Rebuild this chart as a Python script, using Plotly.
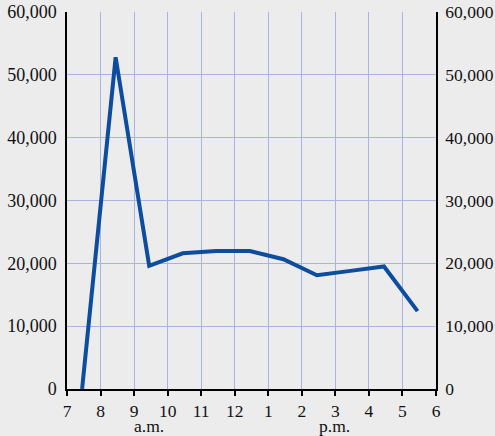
import plotly.graph_objects as go

hours = [7.45, 8.45, 9.45, 10.45, 11.45, 12.45, 13.45, 14.45, 15.45, 16.45, 17.45]
values = [0, 52800, 19600, 21600, 21950, 21950, 20650, 18100, 18800, 19500, 12400]
tick_vals = [7, 8, 9, 10, 11, 12, 13, 14, 15, 16, 17, 18]
tick_text = ["7", "8", "9", "10", "11", "12", "1", "2", "3", "4", "5", "6"]
y_ticks = [0, 10000, 20000, 30000, 40000, 50000, 60000]
y_text = ["0", "10,000", "20,000", "30,000", "40,000", "50,000", "60,000"]

FONT = "Liberation Serif, Times New Roman, serif"
GRID = "#a9b3e2"
BG = "#ececec"

fig = go.Figure()
fig.add_trace(go.Scatter(x=hours, y=values, mode="lines",
                         line=dict(color="#0d4d9e", width=4),
                         showlegend=False, hoverinfo="skip"))
fig.add_trace(go.Scatter(x=hours, y=values, mode="lines", yaxis="y2",
                         line=dict(color="rgba(0,0,0,0)", width=0),
                         showlegend=False, hoverinfo="skip"))

fig.update_layout(
    width=495, height=436,
    margin=dict(l=67, r=59, t=12, b=47, autoexpand=False),
    paper_bgcolor=BG, plot_bgcolor=BG,
    font=dict(family=FONT, color="#111111", size=18),
    xaxis=dict(range=[7, 18], tickvals=tick_vals, ticktext=tick_text,
               showgrid=True, gridcolor=GRID, gridwidth=1, automargin=False,
               zeroline=False, showline=True, linecolor="black", linewidth=1.5,
               ticks="outside", ticklen=5, tickcolor="black", tickwidth=1.5,
               ticklabelstandoff=0, ticklabeloverflow="allow",
               tickfont=dict(size=17.5, family=FONT)),
    yaxis=dict(range=[0, 60000], tickvals=y_ticks, ticktext=y_text,
               showgrid=True, gridcolor=GRID, gridwidth=1, automargin=False,
               zeroline=False, showline=True, linecolor="black", linewidth=1.5,
               ticks="", ticklabelstandoff=5, ticklabeloverflow="allow",
               tickfont=dict(size=18, family=FONT)),
    yaxis2=dict(range=[0, 60000], tickvals=y_ticks, ticktext=y_text,
                overlaying="y", side="right", showgrid=False, automargin=False,
                zeroline=False, showline=True, linecolor="black", linewidth=1.5,
                ticks="", ticklabelstandoff=4, ticklabeloverflow="allow",
                tickfont=dict(size=17.5, family=FONT)),
    annotations=[
        dict(x=9.44, y=-0.097, xref="x", yref="paper", text="a.m.",
             showarrow=False, font=dict(size=17.5, family=FONT), yanchor="middle"),
        dict(x=14.96, y=-0.097, xref="x", yref="paper", text="p.m.",
             showarrow=False, font=dict(size=17.5, family=FONT), yanchor="middle"),
    ],
)

fig.write_html("out.html", config={"displayModeBar": False},
               post_script="document.body.style.margin='0';document.body.style.background='#ececec';")
